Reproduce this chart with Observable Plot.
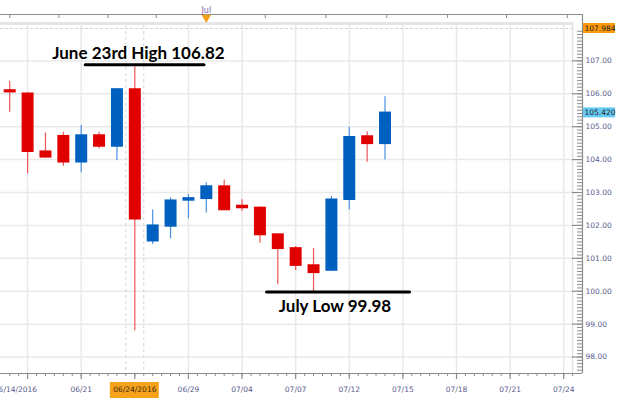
<!DOCTYPE html>
<html><head><meta charset="utf-8">
<script src="https://cdn.jsdelivr.net/npm/d3@7"></script>
<script src="https://cdn.jsdelivr.net/npm/@observablehq/plot@0.6"></script>
<style>html,body{margin:0;padding:0;background:#fff;} #chart{width:623px;height:399px;overflow:hidden;}</style>
</head><body><div id="chart"></div>
<script>
// Session sequence used for the horizontal axis (trading days, then calendar days after the data)
const sessions = ["06/14","06/15","06/16","06/17","06/20","06/21","06/22","06/23","06/24","06/27","06/28","06/29","06/30","07/01","07/04","07/05","07/06","07/07","07/08","07/11","07/12","07/13","07/14","07/15","07/16","07/17","07/18","07/19","07/20","07/21","07/22","07/23","07/24"];

// Candles (USD/JPY daily)
const dates  = ["06/15","06/16","06/17","06/20","06/21","06/22","06/23","06/24","06/27","06/28","06/29","06/30","07/01","07/04","07/05","07/06","07/07","07/08","07/11","07/12","07/13","07/14"];
const opens  = [106.10,106.00,104.24,104.71,103.92,104.73,104.40,106.13,101.52,101.97,102.76,102.81,103.18,102.59,102.53,101.72,101.30,100.78,100.63,102.78,104.70,104.48];
const highs  = [106.38,106.02,104.81,104.83,105.04,104.83,106.15,106.82,102.47,102.84,102.94,103.30,103.38,102.78,102.57,101.74,101.36,101.30,102.88,104.98,104.85,105.91];
const lows   = [105.44,103.57,104.04,103.80,103.60,104.33,103.97, 98.80,101.42,101.59,102.20,102.38,102.47,102.43,101.46,100.20,100.63, 99.98,100.60,102.47,103.92,103.99];
const closes = [106.05,104.24,104.07,103.92,104.73,104.40,106.13,102.19,101.99,102.75,102.82,103.18,102.47,102.53,101.71,101.29,100.78,100.56,102.78,104.68,104.48,105.42];

// Axis ticks / labels
const yTicks = [98,99,100,101,102,103,104,105,106,107];
const gridDates = ["06/16","06/21","06/29","07/04","07/07","07/12","07/15","07/18","07/21","07/24"];
const majorTickDates = ["06/16","06/21","06/24","06/29","07/04","07/07","07/12","07/15","07/18","07/21","07/24"];
const labelDates = ["06/21","06/29","07/04","07/07","07/12","07/15","07/18","07/21","07/24"];
const firstLabel = {date: "06/14", text: "06/14/2016"};
const selectedLabel = {date: "06/24", text: "06/24/2016"};
const topStripTicks = [1, 3.75, 6.5, 9.2, 15.3, 18.7, 22.1, 25.5, 28.8, 32.2];
const monthMarker = {date: "06/30", text: "Jul"};
const topValue = 107.984;
const lastValue = 105.420;
const yBottom = 97.5;

// Annotations
const highNote = {text: "June 23rd High 106.82", level: 106.82, from: 5.25, to: 11.9, at: 8.2};
const lowNote  = {text: "July Low 99.98", level: 99.98, from: 15.4, to: 23.4, at: 19.2};

const pos = d => sessions.indexOf(d);
const candles = dates.map((d, k) => ({x: pos(d), o: opens[k], h: highs[k], l: lows[k], c: closes[k], up: closes[k] >= opens[k]}));
const xDomain = [0.484, 33.05];
const xMax = xDomain[1];
const minorX = d3.range(1, 33, 0.5);
const minorY = d3.range(97.6, 107.95, 0.1);

const frameColor = "#8c8c8c";
const gridColor = "#e9e9e9";
const axisText = "#5a5a8c";

const chart = Plot.plot({
  width: 623, height: 399,
  marginLeft: 0, marginRight: 41, marginTop: 28, marginBottom: 26,
  x: {domain: xDomain, axis: null},
  y: {domain: [yBottom, topValue], axis: null},
  style: {fontFamily: "DejaVu Sans", fontSize: "7.5px", background: "white", overflow: "visible"},
  marks: [
    // grid
    Plot.ruleY(yTicks, {stroke: gridColor, strokeWidth: 1.5, insetRight: 10}),
    Plot.ruleX(gridDates.map(pos), {stroke: gridColor, strokeWidth: 1.5, insetTop: -3}),
    Plot.ruleX([pos(selectedLabel.date) - 0.5, pos(selectedLabel.date) + 0.5], {stroke: "#d4d4d4", strokeDasharray: "3,3", insetTop: -3}),
    Plot.ruleY([topValue], {stroke: "#d6d6d6", strokeDasharray: "3,2", insetRight: 10}),
    // frames
    Plot.ruleY([topValue], {dy: -5, stroke: "#e4e6ea", strokeWidth: 3, insetRight: 10}),
    Plot.ruleX([xMax], {dx: -10, stroke: "#e2e2e2", strokeWidth: 1.5, insetTop: -6}),
    Plot.ruleY([topValue], {dy: -14, stroke: frameColor, strokeWidth: 1.2}),
    Plot.ruleX([xMax], {stroke: frameColor, strokeWidth: 1.2, insetTop: -14}),
    Plot.ruleY([yBottom], {stroke: frameColor, strokeWidth: 1.2}),
    // top strip ticks + month marker
    Plot.ruleX(topStripTicks, {x: d => d, y1: topValue, y2: topValue, insetTop: -14, insetBottom: 10, stroke: frameColor}),
    Plot.text([monthMarker], {x: d => pos(d.date), frameAnchor: "top", dy: -21, text: "text", fill: "#7a66a8", fontSize: 8}),
    Plot.dot([monthMarker], {x: d => pos(d.date), frameAnchor: "top", dy: -11, symbol: "triangle", rotate: 180, r: 3.6, fill: "#f5a01a", stroke: "none"}),
    // bottom axis ticks
    Plot.ruleX(minorX, {x: d => d, y1: yBottom, y2: yBottom, insetBottom: -3, stroke: frameColor}),
    Plot.ruleX(majorTickDates.map(pos), {x: d => d, y1: yBottom, y2: yBottom, insetBottom: -6, stroke: frameColor, strokeWidth: 1.2}),
    // right axis ticks
    Plot.ruleY(minorY, {y: d => d, x1: xMax, x2: xMax, insetLeft: -5, stroke: frameColor}),
    Plot.ruleY(yTicks, {y: d => d, x1: xMax, x2: xMax, insetLeft: -10, stroke: frameColor, strokeWidth: 1.2}),
    // candles
    Plot.ruleX(candles, {x: "x", y1: "h", y2: "l", stroke: d => d.up ? "#4b92e3" : "#ec5656", strokeWidth: 1.2}),
    Plot.ruleX(candles, {x: "x", y1: d => Math.max(d.o, d.c), y2: d => Math.min(d.o, d.c), insetTop: -0.8, insetBottom: -0.8, stroke: d => d.up ? "#0060c0" : "#e00000", strokeWidth: 12}),
    // annotations
    Plot.ruleY([highNote], {y: "level", x1: "from", x2: "to", dy: -2, stroke: "black", strokeWidth: 3, strokeLinecap: "round"}),
    Plot.text([highNote], {x: "at", y: "level", dy: -13, text: "text", fontFamily: "Lato", fontWeight: "bold", fontSize: 17, fill: "black"}),
    Plot.ruleY([lowNote], {y: "level", x1: "from", x2: "to", stroke: "black", strokeWidth: 3, strokeLinecap: "round"}),
    Plot.text([lowNote], {x: "at", y: "level", dy: 15, text: "text", fontFamily: "Lato", fontWeight: "bold", fontSize: 17, fill: "black"}),
    // right axis labels
    Plot.text(yTicks, {y: d => d, frameAnchor: "right", textAnchor: "start", dx: 3, text: d => d.toFixed(2), fill: axisText}),
    Plot.rect([topValue], {y1: d => d, y2: d => d, x1: xMax, x2: xMax, insetLeft: 1, insetRight: -33, insetTop: -5, insetBottom: -5, fill: "#ff9a0a"}),
    Plot.text([topValue], {y: d => d, frameAnchor: "right", textAnchor: "start", dx: 2, text: d => d.toFixed(3), fill: "#222"}),
    Plot.rect([lastValue], {y1: d => d, y2: d => d, x1: xMax, x2: xMax, insetLeft: 1, insetRight: -33, insetTop: -5, insetBottom: -5, fill: "#66ccf5"}),
    Plot.text([lastValue], {y: d => d, frameAnchor: "right", textAnchor: "start", dx: 2, text: d => d.toFixed(3), fill: "#222"}),
    // bottom labels
    Plot.text(labelDates, {x: pos, frameAnchor: "bottom", dy: 18, text: d => d, fill: axisText}),
    Plot.text([firstLabel], {x: d => pos(d.date), frameAnchor: "bottom", dy: 18, textAnchor: "start", dx: 2, text: "text", fill: axisText}),
    Plot.rect([selectedLabel], {x1: d => pos(d.date), x2: d => pos(d.date), y1: yBottom, y2: yBottom, insetLeft: -24.5, insetRight: -24.5, insetTop: 9, insetBottom: -25, fill: "#f7a21b"}),
    Plot.text([selectedLabel], {x: d => pos(d.date), frameAnchor: "bottom", dy: 18, text: "text", fill: "#3a2a10"})
  ]
});
document.getElementById("chart").appendChild(chart);
</script>
</body></html>
